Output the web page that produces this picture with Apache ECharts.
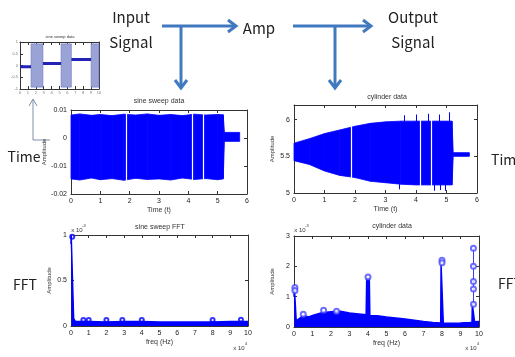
<!DOCTYPE html>
<html>
<head>
<meta charset="utf-8">
<script src="https://cdn.jsdelivr.net/npm/echarts@6/dist/echarts.min.js"></script>
<style>
html, body { margin: 0; padding: 0; background: #fff; }
#chart { width: 515px; height: 357px; }
</style>
</head>
<body>
<div id="chart"></div>
<script>
// ---- data ----
// sine sweep, time domain: upper / lower envelope of the dense oscillation
const sweepT  = [0, 0.3, 0.7, 1, 1.4, 1.8, 2.2, 2.6, 3, 3.4, 3.8, 4.2, 4.6, 5, 5.19, 5.23, 5.75];
const sweepUp = [0.0082, 0.0086, 0.0081, 0.0084, 0.0080, 0.0085, 0.0082, 0.0086, 0.0081, 0.0084, 0.0080, 0.0085, 0.0082, 0.0084, 0.0083, 0.0020, 0.0020];
const sweepLo = [-0.0146, -0.0150, -0.0143, -0.0149, -0.0145, -0.0151, -0.0144, -0.0148, -0.0146, -0.0150, -0.0143, -0.0148, -0.0145, -0.0149, -0.0146, -0.0012, -0.0012];
const sweepGaps = [1.88, 4.14, 4.5];

// cylinder (amp output), time domain
const cylT  = [0, 0.5, 1, 1.5, 2, 2.5, 3, 3.5, 4, 4.5, 5, 5.18, 5.22, 5.75];
const cylUp = [5.68, 5.74, 5.81, 5.86, 5.91, 5.95, 5.97, 5.98, 5.98, 5.98, 5.98, 5.98, 5.55, 5.55];
const cylLo = [5.44, 5.39, 5.30, 5.24, 5.21, 5.16, 5.14, 5.12, 5.11, 5.11, 5.11, 5.11, 5.50, 5.50];
const cylGaps = [1.87, 4.14, 4.5];
const cylSpikesUp = [[3.6, 6.06], [4.0, 6.07], [4.4, 6.08], [4.75, 6.07], [5.1, 6.1]];
const cylSpikesLo = [[3.45, 5.05], [4.6, 5.03], [4.8, 5.04], [4.95, 5.03]];

// sine sweep FFT (x 1e4 Hz, x 1e-3)
const sweepF   = [0, 0.01, 0.03, 0.12, 0.15, 0.25, 1, 2, 3, 4, 5, 6, 7, 8, 9, 10];
const sweepAmp = [0.9, 1.0, 1.0, 0.98, 0.08, 0.05, 0.05, 0.045, 0.05, 0.05, 0.045, 0.045, 0.045, 0.045, 0.05, 0.05];
const sweepMarks = [[0.07, 0.98], [0.7, 0.065], [1, 0.065], [2, 0.065], [2.9, 0.065], [4, 0.065], [8, 0.065], [9.6, 0.07]];

// cylinder FFT
const cylF   = [0, 0.02, 0.09, 0.12, 0.2, 0.5, 0.8, 1, 1.5, 2, 2.5, 3, 3.5, 3.9, 3.93, 4.07, 4.1, 4.5, 5, 5.5, 6, 6.5, 7, 7.5, 7.93, 7.95, 8.05, 8.07, 8.5, 9, 9.5, 9.62, 9.64, 9.74, 9.76, 10];
const cylAmp = [1.0, 1.3, 1.25, 0.2, 0.15, 0.38, 0.33, 0.38, 0.47, 0.5, 0.52, 0.46, 0.43, 0.4, 1.6, 1.62, 0.38, 0.37, 0.33, 0.3, 0.26, 0.22, 0.18, 0.15, 0.13, 2.05, 2.05, 0.13, 0.12, 0.13, 0.15, 0.16, 0.75, 0.75, 0.17, 0.18];
const cylMarks = [[0.05, 1.3], [0.05, 1.2], [4, 1.65], [8, 2.2], [8, 2.12],
  [9.7, 2.6], [9.7, 2.0], [9.7, 1.5], [9.7, 1.25], [9.7, 0.75], [0.5, 0.42], [1.6, 0.55], [2.3, 0.52]];
const cylThin = [[9.7, 0.75], [9.7, 2.6]];

// thumbnail (input step signal)
const thumbFlats  = [[0, 1.4, -0.05], [2.9, 5.2, 0.09], [6.5, 9, 0.26]];
const thumbBlocks = [[1.4, 2.9], [5.2, 6.5], [9, 10]];

// ---- chart ----
const chart = echarts.init(document.getElementById('chart'));
const BLUE = '#0000ff';
const ARROW = '#4179bf';
const font = 'Liberation Sans';

const zip = (a, b) => a.map((v, i) => [v, b[i]]);

function axes(gi, min, max, interval, pos, other, extra) {
  const base = {
    type: 'value', gridIndex: gi, min, max, interval,
    axisLine: { onZero: false, lineStyle: { color: '#333', width: 1 } },
    axisTick: { inside: true, length: 3, lineStyle: { color: '#333' } },
    splitLine: { show: false }
  };
  const main = Object.assign({}, base, { position: pos,
    axisLabel: Object.assign({ margin: 4, fontFamily: font, fontSize: 7, color: '#222' }, extra && extra.axisLabel) },
    extra && extra.rest);
  const sec = Object.assign({}, base, { position: other, axisLabel: { show: false } });
  return [main, sec];
}

const ampName = { name: 'Amplitude', nameLocation: 'middle', nameRotate: 90, nameGap: 19,
  nameTextStyle: { fontFamily: font, fontSize: 6, color: '#333' } };
const xName = n => ({ name: n, nameLocation: 'middle', nameGap: 13,
  nameTextStyle: { fontFamily: font, fontSize: 7, color: '#333' } });
const tiny = { axisLabel: { fontSize: 4, color: '#777', margin: 2 } };

const grids = [
  { left: 20, top: 42, width: 79, height: 47 },
  { left: 71, top: 110, width: 176, height: 84 },
  { left: 294, top: 105, width: 183, height: 88 },
  { left: 71, top: 235, width: 177, height: 91 },
  { left: 294, top: 236, width: 185, height: 91 }
].map(g => Object.assign({ outerBoundsMode: 'none' }, g));

const xAxis = [].concat(
  axes(0, 0, 10, 1, 'bottom', 'top', tiny),
  axes(1, 0, 6, 1, 'bottom', 'top', { rest: xName('Time (t)') }),
  axes(2, 0, 6, 1, 'bottom', 'top', { rest: xName('Time (t)') }),
  axes(3, 0, 10, 1, 'bottom', 'top', { rest: xName('freq (Hz)') }),
  axes(4, 0, 10, 1, 'bottom', 'top', { rest: xName('freq (Hz)') })
);
const yAxis = [].concat(
  axes(0, -1, 1, 0.5, 'left', 'right', tiny),
  axes(1, -0.02, 0.01, 0.01, 'left', 'right', { rest: ampName }),
  axes(2, 5, 6.2, 0.5, 'left', 'right', { rest: ampName, axisLabel: { showMaxLabel: false } }),
  axes(3, 0, 1, 0.5, 'left', 'right', { rest: ampName }),
  axes(4, 0, 3, 1, 'left', 'right', { rest: ampName })
);

// filled band between lower and upper envelope, one quad per interval
function band(gi, t, lo, up) {
  const data = [];
  for (let i = 0; i < t.length - 1; i++) data.push([t[i], up[i], lo[i], t[i + 1], up[i + 1], lo[i + 1]]);
  return {
    type: 'custom', xAxisIndex: 2 * gi, yAxisIndex: 2 * gi, silent: true, data,
    encode: { x: [0, 3], y: [1, 2, 4, 5] },
    renderItem: (params, api) => {
      const p = [api.coord([api.value(0), api.value(1)]), api.coord([api.value(3), api.value(4)]),
                 api.coord([api.value(3), api.value(5)]), api.coord([api.value(0), api.value(2)])];
      return { type: 'polygon', shape: { points: p }, style: { fill: BLUE, stroke: BLUE, lineWidth: 0.8 } };
    }
  };
}
function segs(gi, list, color, width) {
  return { type: 'lines', coordinateSystem: 'cartesian2d', xAxisIndex: 2 * gi, yAxisIndex: 2 * gi, silent: true, z: 5,
    lineStyle: { color, width, opacity: 1 }, data: list.map(c => ({ coords: c })) };
}

const series = [].concat(
  // thumbnail
  thumbFlats.map((f, i) => ({
    type: 'line', xAxisIndex: 0, yAxisIndex: 0, symbol: 'none', silent: true,
    data: [[f[0], f[2]], [f[1], f[2]]], lineStyle: { color: '#2323b5', width: 3 },
    markArea: i ? undefined : { silent: true, itemStyle: { color: '#9aa3d6', borderColor: '#6b74c2', borderWidth: 0.6 },
      data: thumbBlocks.map(b => [{ coord: [b[0], -0.92] }, { coord: [b[1], 0.92] }]) }
  })),
  // sine sweep time
  band(1, sweepT, sweepLo, sweepUp),
  segs(1, sweepGaps.map(g => [[g, -0.0158], [g, 0.0092]]), '#ffffff', 1.2),
  // cylinder time
  band(2, cylT, cylLo, cylUp),
  segs(2, cylSpikesUp.map(s => [[s[0], 5.96], s]), BLUE, 1),
  segs(2, cylSpikesLo.map(s => [[s[0], 5.12], s]), BLUE, 1),
  segs(2, cylGaps.map(g => [[g, 5.09], [g, 6.0]]), '#ffffff', 1.2),
  // sine sweep FFT
  { type: 'line', xAxisIndex: 6, yAxisIndex: 6, data: zip(sweepF, sweepAmp), symbol: 'none', silent: true,
    lineStyle: { color: BLUE, width: 1.5 }, areaStyle: { color: BLUE, opacity: 1 } },
  { type: 'scatter', xAxisIndex: 6, yAxisIndex: 6, data: sweepMarks, symbol: 'emptyCircle', symbolSize: 4,
    itemStyle: { color: BLUE, borderWidth: 1 }, silent: true },
  // cylinder FFT
  { type: 'line', xAxisIndex: 8, yAxisIndex: 8, data: zip(cylF, cylAmp), symbol: 'none', silent: true,
    lineStyle: { color: BLUE, width: 1.5 }, areaStyle: { color: BLUE, opacity: 1 } },
  segs(4, [cylThin], '#3b3bff', 1),
  { type: 'scatter', xAxisIndex: 8, yAxisIndex: 8, data: cylMarks, symbol: 'emptyCircle', symbolSize: 5, z: 6,
    itemStyle: { color: '#4a4aff', borderWidth: 1 }, silent: true }
);

const txt = (x, y, text, size, extra) => ({
  type: 'text', x, y, silent: true,
  style: Object.assign({ text, fontFamily: 'Noto Sans CJK KR', fontSize: size, fill: '#222', textAlign: 'center', textVerticalAlign: 'middle' }, extra)
});
const small = (x, y, text, size) => txt(x, y, text, size || 7, { fontFamily: font, fill: '#333' });
const line = (pts, color, w) => ({ type: 'polyline', silent: true, shape: { points: pts }, style: { stroke: color, lineWidth: w, fill: null } });

const graphic = [
  txt(131, 17, 'Input', 15), txt(131, 42, 'Signal', 15),
  txt(259, 28, 'Amp', 15),
  txt(413, 17, 'Output', 15), txt(413, 42, 'Signal', 15),
  txt(24, 157, 'Time', 14), txt(25, 285, 'FFT', 14),
  txt(491, 160, 'Time', 14, { textAlign: 'left' }), txt(498, 284, 'FFT', 14, { textAlign: 'left' }),
  // arrows
  line([[162, 26], [235, 26]], ARROW, 3), line([[228, 20], [236, 26], [228, 32]], ARROW, 3),
  line([[181, 26], [181, 87]], ARROW, 3), line([[175, 80], [181, 88], [187, 80]], ARROW, 3),
  line([[293, 26], [370, 26]], ARROW, 3), line([[363, 20], [371, 26], [363, 32]], ARROW, 3),
  line([[335, 26], [335, 87]], ARROW, 3), line([[329, 80], [335, 88], [341, 80]], ARROW, 3),
  line([[50, 140], [33, 140], [33, 100]], '#7f8fa8', 1), line([[29, 106], [33, 99], [37, 106]], '#7f8fa8', 1),
  // plot titles
  small(60, 37, 'sine sweep data', 4),
  small(159, 101, 'sine sweep data'),
  small(387, 97, 'cylinder data'),
  small(160, 227, 'sine sweep FFT'),
  small(392, 226, 'cylinder data'),
  // exponent labels
  small(77, 230, 'x 10', 6), small(84, 226, '-3', 4),
  small(300, 230, 'x 10', 6), small(307, 226, '-3', 4),
  small(239, 348, 'x 10', 6), small(246, 344, '4', 4),
  small(471, 348, 'x 10', 6), small(478, 344, '4', 4)
];

chart.setOption({
  animation: false,
  backgroundColor: '#fff',
  grid: grids,
  xAxis,
  yAxis,
  series,
  graphic
});
</script>
</body>
</html>
